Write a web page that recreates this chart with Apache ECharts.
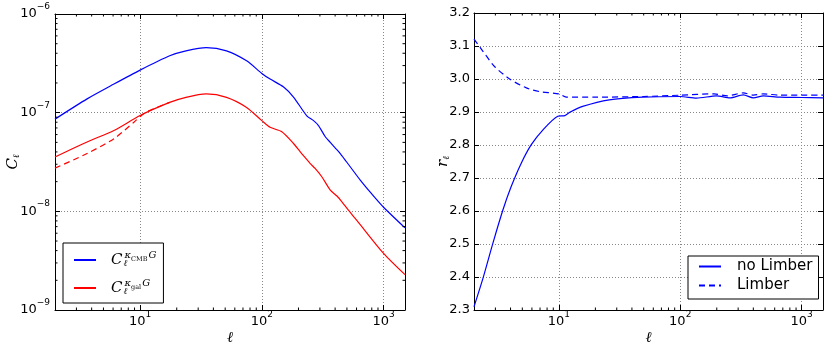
<!DOCTYPE html>
<html>
<head>
<meta charset="utf-8">
<script src="https://cdn.jsdelivr.net/npm/echarts@6/dist/echarts.min.js"></script>
<style>
  html, body { margin: 0; padding: 0; background: #fff; }
  #chart-container { width: 830px; height: 353px; }
</style>
</head>
<body>
<div id="chart-container"></div>
<script>
// left panel: C_l^{kappa G}
const ellCmb = [2, 3.67, 6.1, 10, 17.5, 23.8, 35, 51.3, 75, 100, 117, 151, 182, 234, 266, 292, 332, 365, 400, 441, 494, 646, 800, 1000, 1500]
const clCmb = [8.6e-8, 1.38e-7, 1.95e-7, 2.7e-7, 3.77e-7, 4.23e-7, 4.57e-7, 4.23e-7, 3.35e-7, 2.5e-7, 2.19e-7, 1.82e-7, 1.44e-7, 9.3e-8, 8.3e-8, 7.4e-8, 5.7e-8, 5.0e-8, 4.4e-8, 3.85e-8, 3.2e-8, 2.06e-8, 1.5e-8, 1.1e-8, 6.8e-9]

const ellGal = [2, 3.67, 6.1, 10, 17.5, 23.8, 35, 51.3, 75, 100, 117, 146, 182, 207, 227, 250, 274, 311, 365, 414, 455, 516, 603, 1000, 1500]
const clGal = [3.56e-8, 5.05e-8, 6.6e-8, 9.35e-8, 1.27e-7, 1.43e-7, 1.55e-7, 1.43e-7, 1.13e-7, 8.3e-8, 7.1e-8, 6.4e-8, 4.87e-8, 4.0e-8, 3.5e-8, 3.05e-8, 2.72e-8, 2.24e-8, 1.64e-8, 1.43e-8, 1.25e-8, 1.02e-8, 8.1e-9, 3.75e-9, 2.28e-9]

const ellGalLimber = [2, 3.67, 6.1, 8.9, 11, 17.5]
const clGalLimber = [2.74e-8, 3.86e-8, 5.45e-8, 8.0e-8, 1.0e-7, 1.27e-7]

// right panel: ratio r_l
const ellNoLimber = [2, 2.37, 2.86, 3.46, 4.05, 4.9, 5.93, 7.4, 9.8, 11.2, 12.3, 15.7, 26, 49, 100, 136, 199, 257, 331, 400, 484, 661, 1000, 1500]
const rNoLimber = [2.31, 2.396, 2.502, 2.603, 2.674, 2.745, 2.801, 2.846, 2.887, 2.889, 2.899, 2.917, 2.937, 2.945, 2.947, 2.942, 2.949, 2.943, 2.952, 2.943, 2.949, 2.945, 2.944, 2.943]

const ellLimber = [2, 2.37, 2.95, 3.93, 5.4, 6.9, 10, 11.5, 20, 50, 100, 190, 245, 331, 400, 484, 661, 1000, 1500]
const rLimber = [3.121, 3.084, 3.038, 3.0, 2.973, 2.962, 2.955, 2.945, 2.945, 2.947, 2.951, 2.955, 2.949, 2.958, 2.951, 2.955, 2.951, 2.951, 2.951]

const xMin = 2, xMax = 1500
const yLogMin = 1e-9, yLogMax = 1e-6
const rMin = 2.3, rMax = 3.2

const zip = (xs, ys) => xs.map((x, i) => [x, ys[i]])

const sansFont = 'DejaVu Sans'
const mathFont = 'DejaVu Serif'

const pow10 = v => {
  const l = Math.log10(v)
  const e = Math.round(l)
  if (Math.abs(l - e) > 1e-6) return ''
  return '{b|10}{s|' + String(e).replace('-', '\u2212') + '}'
}
const powRich = {
  b: {fontFamily: sansFont, fontSize: 13, lineHeight: 28, verticalAlign: 'middle', color: '#000'},
  s: {fontFamily: sansFont, fontSize: 9, lineHeight: 9, verticalAlign: 'top', padding: [2, 0, 0, 0], color: '#000'}
}

const gridLine = {color: '#888', width: 1, type: [1, 2]}
const black = {color: '#000', width: 1}

const xAxisLog = (gridIndex, position, main) => ({
  type: 'log', logBase: 10, gridIndex, position, min: xMin, max: xMax,
  name: main ? '{l|\u2113}' : '',
  nameLocation: 'middle', nameGap: 20, nameMoveOverlap: false,
  nameTextStyle: {rich: {l: {fontFamily: mathFont, fontStyle: 'italic', fontSize: 15, lineHeight: 16, color: '#000'}}},
  axisLine: {show: true, onZero: false, lineStyle: black},
  axisTick: {show: true, inside: true, length: 5, lineStyle: black},
  axisLabel: {show: main, formatter: pow10, rich: powRich, margin: -2, showMinLabel: false, showMaxLabel: false},
  splitLine: {show: main, lineStyle: gridLine},
  minorTick: {show: false},
  minorSplitLine: {show: false}
})

const subName = letter => '{c|' + letter + '}{l|\u2113}'
const subNameRich = {
  c: {fontFamily: mathFont, fontStyle: 'italic', fontSize: 15, lineHeight: 20, verticalAlign: 'middle', color: '#000'},
  l: {fontFamily: mathFont, fontStyle: 'italic', fontSize: 9, lineHeight: 9, verticalAlign: 'bottom', padding: [0, 0, 2, 0], color: '#000'}
}

// minor ticks of the log axes, drawn inside the frame
const minorTicks = (lo, hi, eLo, eHi) => {
  const out = []
  for (let e = eLo; e <= eHi; e++) {
    for (let m = 2; m <= 9; m++) {
      const v = m * Math.pow(10, e)
      if (v > lo * 1.0001 && v < hi * 0.9999) out.push(v)
    }
  }
  return out
}
const xMinor = minorTicks(xMin, xMax, 0, 3)
const yMinor = minorTicks(yLogMin, yLogMax, -9, -7)

const tickSeries = (xi, yi, vals, dir, ext) => ({
  type: 'custom', xAxisIndex: xi, yAxisIndex: yi, silent: true, z: 6,
  data: vals.map(v => dir === 'x' ? [v, ext[0]] : [ext[0], v]),
  renderItem: (params, api) => {
    const L = 2.5
    const st = {stroke: '#000', lineWidth: 1}
    if (dir === 'x') {
      const v = api.value(0)
      const a = api.coord([v, ext[0]])
      const b = api.coord([v, ext[1]])
      return {type: 'group', children: [
        {type: 'line', shape: {x1: a[0], y1: a[1], x2: a[0], y2: a[1] - L}, style: st},
        {type: 'line', shape: {x1: b[0], y1: b[1], x2: b[0], y2: b[1] + L}, style: st}
      ]}
    }
    const v = api.value(1)
    const a = api.coord([ext[0], v])
    const b = api.coord([ext[1], v])
    return {type: 'group', children: [
      {type: 'line', shape: {x1: a[0], y1: a[1], x2: a[0] + L, y2: a[1]}, style: st},
      {type: 'line', shape: {x1: b[0], y1: b[1], x2: b[0] - L, y2: b[1]}, style: st}
    ]}
  }
})

const line = (name, xi, yi, data, color, dashed) => ({
  name, type: 'line', xAxisIndex: xi, yAxisIndex: yi, data,
  symbol: 'none', showSymbol: false, smooth: 0.25, z: 4,
  lineStyle: {color, width: 1.2, type: dashed ? [6, 4] : 'solid'},
  itemStyle: {color},
  emphasis: {disabled: true}
})

const legendRich = {
  C: {fontFamily: mathFont, fontStyle: 'italic', fontSize: 15, lineHeight: 24, verticalAlign: 'middle', color: '#000', padding: [0, 0, 0, 10]},
  l: {fontFamily: mathFont, fontStyle: 'italic', fontSize: 9, lineHeight: 9, verticalAlign: 'bottom', width: 0, padding: [0, 0, 4, 1], color: '#000'},
  k: {fontFamily: mathFont, fontStyle: 'italic', fontSize: 10, lineHeight: 10, verticalAlign: 'top', padding: [2, 0, 0, 1], color: '#000'},
  sub: {fontFamily: mathFont, fontSize: 6.5, lineHeight: 7, verticalAlign: 'top', padding: [8, 0, 0, 0], color: '#000'},
  g: {fontFamily: mathFont, fontStyle: 'italic', fontSize: 10, lineHeight: 10, verticalAlign: 'top', padding: [2, 0, 0, 1], color: '#000'}
}
const legendText = {
  cmb: '{C|C}{l|\u2113}{k|\u03ba}{sub|CMB}{g|G}',
  gal: '{C|C}{l|\u2113}{k|\u03ba}{sub|gal}{g|G}'
}
// hide the marker that line legends draw in the middle of the icon
const noMarker = {opacity: 0, color: 'rgba(0,0,0,0)', borderWidth: 0}

const dom = document.getElementById('chart-container')
const myChart = echarts.init(dom, null, {renderer: 'canvas'})

const options = {
  animation: false,
  backgroundColor: '#fff',
  grid: [
    {left: 55, top: 13, width: 350, height: 297, show: false},
    {left: 474, top: 13, width: 349, height: 297, show: false}
  ],
  xAxis: [
    xAxisLog(0, 'bottom', true),
    xAxisLog(0, 'top', false),
    xAxisLog(1, 'bottom', true),
    xAxisLog(1, 'top', false)
  ],
  yAxis: [
    {
      type: 'log', logBase: 10, gridIndex: 0, position: 'left', min: yLogMin, max: yLogMax,
      name: subName('C'), nameLocation: 'middle', nameRotate: 90, nameGap: 32, nameMoveOverlap: false,
      nameTextStyle: {rich: subNameRich},
      axisLine: {show: true, onZero: false, lineStyle: black},
      axisTick: {show: true, inside: true, length: 5, lineStyle: black},
      axisLabel: {formatter: pow10, rich: powRich, margin: 5},
      splitLine: {show: true, lineStyle: gridLine}
    },
    {
      type: 'log', logBase: 10, gridIndex: 0, position: 'right', min: yLogMin, max: yLogMax,
      axisLine: {show: true, onZero: false, lineStyle: black},
      axisTick: {show: true, inside: true, length: 5, lineStyle: black},
      axisLabel: {show: false},
      splitLine: {show: false}
    },
    {
      type: 'value', gridIndex: 1, position: 'left', min: rMin, max: rMax, interval: 0.1,
      name: subName('r'), nameLocation: 'middle', nameRotate: 90, nameGap: 21, nameMoveOverlap: false,
      nameTextStyle: {rich: subNameRich},
      axisLine: {show: true, onZero: false, lineStyle: black},
      axisTick: {show: true, inside: true, length: 5, lineStyle: black},
      axisLabel: {formatter: v => v.toFixed(1), fontFamily: sansFont, fontSize: 13, color: '#000', margin: 4},
      splitLine: {show: true, lineStyle: gridLine}
    },
    {
      type: 'value', gridIndex: 1, position: 'right', min: rMin, max: rMax, interval: 0.1,
      axisLine: {show: true, onZero: false, lineStyle: black},
      axisTick: {show: true, inside: true, length: 5, lineStyle: black},
      axisLabel: {show: false},
      splitLine: {show: false}
    }
  ],
  legend: [
    {
      data: ['cmb', 'gal'], orient: 'vertical', left: 63, top: 243,
      padding: [5, 7, 3, 10], itemGap: 4, itemWidth: 22, itemHeight: 14,
      borderColor: '#000', borderWidth: 1, borderRadius: 0, backgroundColor: '#fff',
      selectedMode: false,
      itemStyle: noMarker,
      formatter: name => legendText[name],
      textStyle: {rich: legendRich}
    },
    {
      data: ['no Limber', 'Limber'], orient: 'vertical', left: 688, top: 256,
      padding: [3, 6, 6, 10], itemGap: 4, itemWidth: 22, itemHeight: 14,
      borderColor: '#000', borderWidth: 1, borderRadius: 0, backgroundColor: '#fff',
      selectedMode: false,
      itemStyle: noMarker,
      formatter: name => '{t|' + name + '}',
      textStyle: {rich: {t: {fontFamily: sansFont, fontSize: 15, lineHeight: 17, color: '#000', padding: [0, 0, 0, 11]}}}
    }
  ],
  series: [
    line('gal Limber', 0, 0, zip(ellGalLimber, clGalLimber), '#ff0000', true),
    line('cmb', 0, 0, zip(ellCmb, clCmb), '#0000ff', false),
    line('gal', 0, 0, zip(ellGal, clGal), '#ff0000', false),
    line('Limber', 2, 2, zip(ellLimber, rLimber), '#0000ff', true),
    line('no Limber', 2, 2, zip(ellNoLimber, rNoLimber), '#0000ff', false),
    tickSeries(0, 0, xMinor, 'x', [yLogMin, yLogMax]),
    tickSeries(0, 0, yMinor, 'y', [xMin, xMax]),
    tickSeries(2, 2, xMinor, 'x', [rMin, rMax])
  ]
}

myChart.setOption(options)
window.addEventListener('resize', myChart.resize)
</script>
</body>
</html>
